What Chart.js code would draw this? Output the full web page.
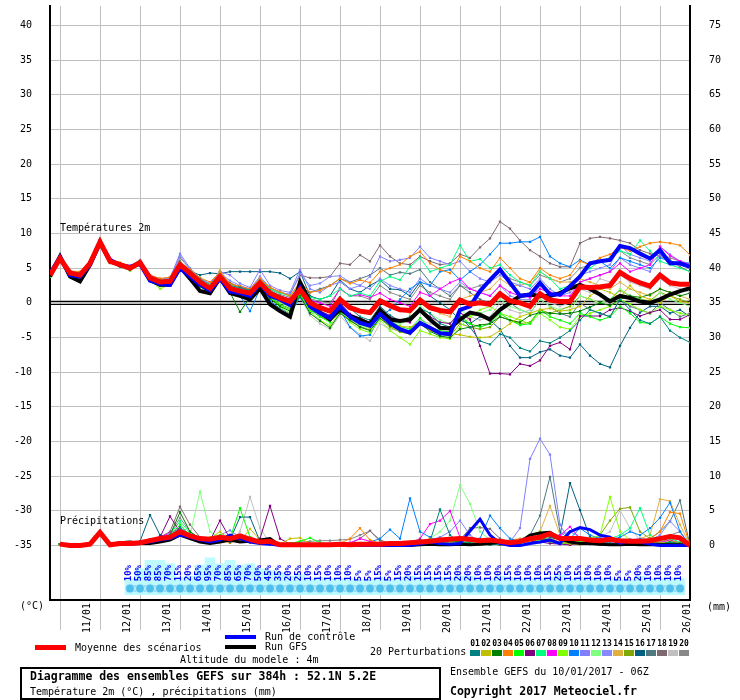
<!DOCTYPE html>
<html><head><meta charset="utf-8">
<script src="https://cdn.jsdelivr.net/npm/chart.js@4.4.0/dist/chart.umd.min.js"></script>
<style>html,body{margin:0;padding:0;background:#fff}canvas{display:block}</style>
</head><body>
<canvas id="c" width="740" height="700"></canvas>
<script>
// ---- time axis (hours after 10/01/2017 06Z) ----
const hours = [0,6,12,18,24,30,36,42,48,54,60,66,72,78,84,90,96,102,108,114,120,126,132,138,144,150,156,162,168,174,180,186,192,198,204,210,216,222,228,234,240,246,252,258,264,270,276,282,288,294,300,306,312,318,324,330,336,342,348,354,360,366,372,378,384];
const dayHours = [18,42,66,90,114,138,162,186,210,234,258,282,306,330,354,378];
const dayLabels = ['11/01','12/01','13/01','14/01','15/01','16/01','17/01','18/01','19/01','20/01','21/01','22/01','23/01','24/01','25/01','26/01'];
const leftTicks = [-35,-30,-25,-20,-15,-10,-5,0,5,10,15,20,25,30,35,40];
const rightTicks = [0,5,10,15,20,25,30,35,40,45,50,55,60,65,70,75];

// ---- temperature 2m (°C) ----
const tempMean = [4.0,6.4,4.3,4.0,5.7,8.8,6.0,5.5,5.0,5.8,3.6,3.0,3.1,5.5,4.3,3.0,2.1,3.8,2.1,1.7,1.4,2.9,1.4,0.7,0.2,1.9,0.0,-0.7,-1.2,0.5,-0.7,-1.2,-1.4,0.3,-0.4,-1.0,-1.1,0.4,-0.7,-1.1,-1.3,0.4,-0.2,0.0,-0.2,1.3,0.3,0.0,-0.5,1.3,0.4,0.2,0.2,2.3,2.2,2.3,2.5,4.4,3.5,2.9,2.4,4.0,2.9,2.7,2.7];
const tempControl = [4.2,6.6,4.0,3.8,5.5,8.6,6.2,5.4,5.2,5.6,3.2,2.7,2.6,5.0,3.8,2.6,1.8,3.5,1.6,1.4,1.0,2.8,1.0,0.5,-0.3,2.2,-0.5,-1.5,-2.2,-0.5,-2.0,-2.9,-3.3,-1.6,-2.9,-3.8,-4.3,-2.9,-3.6,-4.4,-4.5,-1.0,-0.5,1.7,3.3,4.8,2.9,1.0,1.2,2.9,1.2,1.2,2.4,3.8,5.7,6.0,6.2,8.2,7.9,7.1,6.4,7.6,5.7,5.7,5.2];
const tempGFS = [3.8,6.7,3.8,3.1,5.5,8.8,6.0,5.5,5.0,5.8,3.3,2.6,2.6,5.2,3.5,1.7,1.4,3.6,1.4,1.0,0.5,2.1,-0.2,-1.2,-2.0,3.0,0.2,-1.4,-2.4,-0.9,-1.9,-2.4,-3.1,-1.0,-2.4,-2.6,-2.4,-1.0,-2.4,-3.6,-3.7,-2.4,-1.4,-1.7,-2.4,-1.0,0.0,1.0,1.2,1.0,1.0,1.4,2.1,2.6,2.0,1.2,0.2,1.0,0.7,0.2,0.0,0.5,1.2,1.7,2.1];
const t01 = [4.2,6.6,4.5,4.1,5.9,9.0,6.1,5.6,5.1,5.9,3.8,3.2,3.0,5.8,4.6,3.4,2.4,4.0,2.5,2.2,1.8,3.2,1.8,1.0,0.5,2.4,0.5,-0.5,-1.0,0.8,-0.8,-2.0,-2.5,-0.5,-1.8,-2.6,-2.0,-0.8,-1.5,-3.0,-3.5,-2.0,-3.5,-5.5,-6.0,-4.5,-5.0,-6.5,-7.0,-5.5,-5.8,-5.0,-4.0,-2.5,-1.0,-1.5,-2.0,0.5,-1.0,-2.5,-3.0,-2.0,-4.0,-5.0,-5.7];
const t02 = [4.1,6.2,4.4,4.2,5.6,8.6,5.9,5.4,4.9,5.7,3.5,2.8,3.3,5.4,4.1,2.8,2.0,3.6,2.3,1.5,1.2,2.6,1.0,0.2,-0.4,1.5,-0.8,-1.6,-2.2,-0.4,-2.0,-2.8,-3.6,-2.0,-3.0,-3.4,-3.5,-2.8,-4.0,-4.3,-4.5,-4.6,-4.9,-5.0,-4.9,-4.0,-3.0,-2.0,-1.5,-1.0,-0.8,-1.2,-1.0,-0.5,1.0,2.0,1.5,0.8,2.5,1.0,0.5,0.0,1.0,0.2,0.0];
const t03 = [3.9,6.3,4.1,3.8,5.4,8.5,5.8,5.3,4.8,5.6,3.2,2.6,2.8,5.2,4.0,2.6,1.7,3.2,1.5,-1.3,0.8,2.2,0.6,-0.5,-1.2,1.0,-1.5,-2.6,-3.6,-1.5,-2.5,-3.5,-4.0,-2.2,-3.3,-4.0,-4.2,-3.0,-4.1,-4.8,-5.0,-3.8,-3.5,-3.2,-3.0,-2.0,-2.5,-2.8,-1.8,-1.4,-1.5,-1.6,-1.5,-1.2,-0.6,0.0,-0.4,0.5,1.0,0.8,1.2,2.0,1.5,1.0,1.4];
const t04 = [4.3,6.5,4.6,4.5,6.0,9.0,6.3,5.8,5.3,6.1,4.0,3.5,3.7,5.9,4.8,3.6,3.0,4.4,2.7,2.4,2.0,3.5,2.2,1.6,1.0,3.0,1.5,1.8,2.5,3.5,2.8,3.3,2.9,4.5,5.0,5.5,6.7,7.4,5.7,4.8,4.3,6.7,6.0,5.0,4.5,6.5,5.0,3.5,3.0,5.0,4.0,3.5,4.0,6.0,5.5,6.5,7.0,8.0,7.5,8.1,8.6,8.8,8.6,8.3,6.9];
const t05 = [3.8,6.2,4.0,3.7,5.5,8.7,5.8,5.2,4.7,5.5,3.2,2.5,2.6,5.1,3.8,2.4,1.5,3.3,1.6,1.2,0.9,2.3,0.8,-0.3,-1.0,1.2,-1.0,-2.0,-2.8,-0.6,-2.2,-3.0,-3.5,-1.0,-2.6,-3.4,-3.8,-2.2,-3.5,-4.0,-4.2,-2.0,-3.0,-3.5,-3.0,-1.5,-2.5,-3.2,-3.0,-1.0,-2.0,-2.5,-3.0,-1.5,-2.0,-2.5,-2.0,-0.5,-1.5,-2.8,-3.0,-2.0,-3.0,-3.5,-3.6];
const t06 = [4.0,6.4,4.2,3.9,5.6,8.7,6.0,5.4,4.9,5.7,3.4,2.8,3.0,5.3,4.1,2.9,2.0,3.7,2.0,1.6,1.2,2.7,1.2,0.3,-0.2,1.6,-0.4,-1.2,-1.8,0.0,-1.6,-2.2,-2.8,-0.8,-2.0,-2.6,-2.8,-1.0,-2.0,-2.8,-3.0,-1.4,-2.4,-6.2,-10.2,-10.2,-10.3,-8.8,-9.1,-8.3,-6.2,-5.7,-6.7,-1.9,-1.9,-1.9,-1.0,-0.7,-1.2,-1.9,-1.4,-1.0,-2.4,-2.4,-1.7];
const t07 = [4.1,6.5,4.4,4.3,5.8,8.9,6.1,5.6,5.2,6.0,3.8,3.3,3.4,5.7,4.5,3.3,2.6,4.2,2.6,2.0,1.8,3.3,2.0,1.4,1.0,2.8,0.8,0.5,1.0,2.0,1.0,1.4,1.0,3.1,3.8,3.3,5.2,6.5,4.5,5.0,5.5,8.3,6.0,6.3,5.0,5.5,4.0,3.0,2.5,4.5,3.5,2.0,2.5,4.0,5.0,6.0,6.5,7.5,7.0,9.0,7.5,6.0,5.5,5.0,4.5];
const t08 = [4.0,6.3,4.3,4.0,5.7,8.8,6.1,5.5,5.1,5.9,3.7,3.1,3.2,5.6,4.4,3.2,2.3,4.1,2.3,1.9,1.6,3.1,1.6,1.0,0.6,2.5,0.4,0.0,-0.5,2.1,1.0,1.2,0.8,1.4,0.5,0.0,-0.5,1.5,1.0,2.0,2.9,3.5,2.0,1.5,1.0,2.5,1.5,1.0,0.8,2.0,1.5,1.0,1.0,3.0,3.5,4.0,4.5,5.7,4.5,5.0,5.5,8.1,6.8,6.0,5.5];
const t09 = [3.9,6.2,4.1,3.9,5.6,8.7,5.9,5.3,4.8,5.6,3.3,2.0,2.7,5.2,3.9,2.3,1.6,3.4,1.4,1.3,0.7,2.4,0.7,-0.6,-1.5,1.2,-1.2,-2.5,-3.3,-1.2,-2.8,-3.8,-4.3,-2.5,-4.0,-5.0,-6.0,-4.0,-4.5,-5.0,-5.2,-3.5,-2.0,-1.0,-0.5,-1.5,-2.0,-2.5,-3.0,-1.5,-2.5,-3.5,-3.8,-2.0,-1.5,-1.0,-0.5,0.5,-0.2,-1.0,-1.5,-0.5,-1.0,-1.5,-1.8];
const t10 = [4.0,6.3,4.1,3.9,5.5,8.6,5.8,5.3,4.9,5.6,3.3,2.8,2.9,5.3,4.0,2.7,1.8,3.5,1.8,1.0,-1.2,2.0,0.3,-0.8,-1.6,0.8,-1.3,-1.3,-2.5,-1.0,-3.5,-4.8,-4.6,-2.0,-1.0,0.5,2.0,3.0,2.5,4.5,4.8,3.3,4.5,5.5,7.0,8.6,8.6,8.8,8.8,9.5,6.7,5.7,5.2,6.2,5.5,6.0,5.0,6.5,6.0,5.5,5.0,6.5,6.0,5.8,5.7];
const t11 = [4.2,6.6,4.5,4.3,6.0,9.2,6.2,5.7,5.3,6.2,4.0,3.5,3.6,7.1,5.0,3.5,2.8,4.5,4.0,2.8,2.2,4.8,2.5,1.8,1.5,4.8,2.0,1.5,2.5,3.0,2.0,2.5,3.8,6.7,6.0,6.2,6.5,8.1,6.5,6.0,5.5,6.0,4.5,3.5,3.0,4.0,3.0,2.5,2.0,3.5,2.0,1.0,1.5,3.0,3.5,4.0,4.5,6.5,5.5,5.0,4.5,7.0,6.0,5.5,5.0];
const t12 = [3.9,6.2,4.2,4.0,5.6,8.6,5.9,5.4,4.9,5.7,3.4,2.9,3.0,5.3,4.2,2.9,1.9,3.6,1.9,1.5,1.1,2.6,1.0,0.0,-0.6,1.4,-0.6,-1.8,-2.5,-0.8,-2.4,-3.2,-3.7,-1.8,-2.8,-3.0,-2.5,-0.5,-1.5,-2.5,-3.0,-1.0,-2.0,-1.5,-1.0,0.5,-0.5,-1.0,-1.5,0.5,-0.5,-1.0,-1.2,1.0,0.5,0.0,0.5,2.0,1.0,0.5,0.0,1.5,0.5,0.0,-0.5];
const t13 = [4.1,6.4,4.4,4.2,5.8,8.9,6.1,5.6,5.1,6.0,3.9,3.4,3.5,6.8,4.8,3.4,2.5,4.3,3.2,2.5,2.0,3.8,2.2,1.5,1.2,4.2,2.5,2.8,3.8,3.9,3.0,2.5,2.0,3.5,2.5,2.0,1.5,3.5,2.5,2.0,1.5,3.0,2.0,1.5,1.0,2.5,1.0,0.5,0.5,2.5,1.5,1.5,2.0,4.0,4.5,5.0,5.5,8.3,7.0,6.5,6.0,8.1,7.0,6.0,5.7];
const t14 = [4.2,6.5,4.5,4.2,5.9,9.0,6.2,5.7,5.2,6.0,3.8,3.3,3.4,5.8,4.5,3.3,2.4,4.8,2.6,2.1,1.7,3.3,1.7,1.0,0.5,2.4,0.2,-0.6,-1.0,0.8,-0.6,-1.2,-1.5,0.5,-0.5,-1.0,-1.5,0.5,-0.5,-1.5,-2.0,0.5,1.0,1.5,2.0,3.5,2.5,2.5,3.0,4.5,3.5,3.0,3.0,3.5,3.0,2.5,2.0,3.0,2.0,1.5,1.0,2.0,1.5,1.0,0.5];
const t15 = [3.9,6.3,4.2,3.9,5.5,8.5,5.8,5.4,4.8,5.6,3.3,2.4,2.7,5.2,4.0,2.6,1.8,3.3,1.8,1.4,1.0,2.5,0.9,-0.2,-0.8,1.3,-0.9,-2.0,-2.6,-1.0,-2.6,-3.4,-3.9,-2.2,-3.5,-4.2,-4.5,-3.0,-4.0,-4.5,-4.8,-3.0,-3.5,-3.8,-3.5,-2.0,-2.5,-3.0,-2.8,-1.0,-1.5,-1.0,-0.5,1.0,0.5,0.0,0.5,1.8,1.0,0.5,0.3,1.5,1.0,0.5,0.0];
const t16 = [4.1,6.4,4.3,4.1,5.8,8.9,6.1,5.6,5.1,5.9,3.8,3.2,3.3,5.8,4.6,4.0,4.3,4.2,4.5,4.5,4.5,4.5,4.5,4.3,3.5,4.5,1.0,0.5,1.0,3.3,2.0,1.5,2.5,3.3,2.0,1.9,1.0,3.0,1.0,0.0,-1.0,-2.5,-3.0,-2.0,-2.5,-3.8,-6.2,-7.9,-7.9,-7.1,-6.7,-7.6,-7.9,-6.0,-7.6,-8.8,-9.3,-6.2,-3.6,-1.4,-0.5,-0.5,-1.5,-1.0,-2.0];
const t17 = [4.0,6.3,4.3,4.1,5.7,8.8,6.0,5.5,5.0,5.8,3.6,3.0,3.2,5.5,4.3,3.1,2.2,3.9,2.2,1.8,1.5,3.0,1.5,0.9,0.4,2.3,1.5,2.0,2.5,3.5,3.0,3.5,4.0,5.0,4.0,4.4,4.2,4.8,3.0,2.0,1.0,2.5,1.5,0.5,0.0,1.5,0.0,-1.0,-1.5,0.5,-0.5,-1.5,-2.0,0.0,-1.0,-1.5,-2.0,0.5,-0.5,-1.0,-1.5,0.0,-1.0,-2.0,-1.5];
const t18 = [4.1,6.5,4.5,4.3,5.9,9.0,6.2,5.7,5.2,6.1,3.9,3.4,3.6,6.0,4.7,3.5,2.7,4.3,2.8,2.3,2.0,3.5,2.2,1.5,1.2,4.0,3.6,3.6,3.8,5.7,5.5,6.9,6.0,8.3,6.7,5.7,5.5,6.7,6.0,5.5,5.7,7.0,6.5,8.0,9.3,11.7,10.7,9.0,7.6,6.7,5.7,5.2,5.2,8.6,9.3,9.5,9.3,9.0,8.6,7.6,7.1,6.7,6.2,5.2,4.5];
const t19 = [3.8,6.1,4.0,3.7,5.4,8.5,5.7,5.2,4.7,5.5,3.1,2.5,2.6,5.0,3.7,2.3,1.4,3.2,1.4,1.0,0.6,2.0,0.4,-1.0,-1.8,0.9,-1.8,-3.0,-3.8,-1.8,-3.5,-4.5,-5.5,-3.0,-3.8,-4.0,-4.5,-2.5,-3.0,-3.5,-3.8,-1.5,-2.0,-2.5,-2.0,0.0,-1.0,-1.5,-1.0,1.0,0.0,-0.5,0.0,2.0,1.5,3.5,3.0,4.0,3.0,2.5,2.0,3.5,2.5,2.0,1.5];
const t20 = [4.1,6.5,4.4,4.2,5.8,8.9,6.1,5.7,5.2,6.0,3.9,3.4,3.6,6.5,4.9,3.6,2.6,4.4,2.9,2.3,1.9,3.4,2.0,1.2,0.8,2.6,0.6,0.2,0.0,2.0,1.0,1.0,0.5,2.5,1.5,1.0,0.5,2.5,1.5,1.0,0.5,2.5,2.0,2.5,3.0,4.5,3.5,3.0,2.5,4.0,3.5,3.0,3.5,5.0,5.5,6.0,6.5,7.5,6.5,6.0,5.5,7.0,6.5,6.0,5.5];
const tempMembers = [t01,t02,t03,t04,t05,t06,t07,t08,t09,t10,t11,t12,t13,t14,t15,t16,t17,t18,t19,t20];

// ---- precipitation (mm / 6h) ----
const precMean = [null,0.2,0.0,0.0,0.2,1.9,0.1,0.3,0.3,0.4,0.7,1.0,1.2,2.0,1.4,1.0,0.9,1.2,1.0,1.4,0.9,0.5,0.6,0.1,0.1,0.1,0.1,0.1,0.1,0.2,0.1,0.2,0.2,0.2,0.3,0.3,0.4,0.5,0.6,0.8,0.9,1.0,0.9,0.7,0.8,0.6,0.4,0.6,1.0,1.2,1.7,1.0,1.0,1.0,0.8,0.7,0.9,0.7,0.6,0.6,0.7,1.0,1.3,1.1,0.0];
const precControl = [null,0.2,0,0,0.2,1.8,0.1,0.3,0.2,0.3,0.5,0.8,1.0,1.5,1.2,0.8,0.5,0.8,1.5,1.0,0.5,0.3,0.2,0,0,0,0,0,0,0,0,0,0,0,0,0,0,0.2,0.5,0.3,0.2,0.3,2.1,3.8,1.5,0.3,0,0,0.3,0.5,0.8,0.3,2.0,2.6,2.3,1.5,1.2,0.3,0.8,0.5,0.2,0,0,0,0];
const precGFS = [null,0.2,0,0,0.3,2.0,0.1,0.4,0.5,0.3,0.3,0.5,0.8,1.5,1.0,0.5,0.3,0.5,0.8,0.5,0.6,0.8,1.0,0,0,0,0,0,0,0,0,0,0,0,0,0,0,0.1,0.2,0.1,0.1,0.2,0.1,0.2,0.3,0.5,0.3,0.5,1.5,1.8,1.9,1.0,0.5,0.3,0.3,0.2,0.1,0.1,0.2,0.1,0.1,0.1,0.1,0.1,0];
const p01 = [null,0.2,0,0,0.2,1.8,0.1,0.3,0.4,0.3,0.6,0.8,1.2,2.5,1.5,0.8,0.6,1.0,0.5,1.2,0.6,0.4,0.3,0.1,0,0,0,0,0,0.1,0,0,0.2,0.1,0.2,0.3,0.5,0.8,0.6,5.2,1.5,0.5,0.3,0.2,0.1,0.2,0.4,0.8,1.0,1.5,1.2,0.8,0.5,0.3,0.8,0.5,0.3,0.2,0.5,0.8,0.3,0.2,0.5,0.3,0];
const p02 = [null,0.1,0,0,0.3,1.6,0.1,0.2,0.3,0.2,0.5,0.9,1.0,1.8,1.2,0.7,1.0,2.0,0.8,0.6,2.4,0.8,0.3,0.2,1.0,1.1,0.3,0.1,0,0,0,0,0,0,0,0.1,0.2,0.3,0.2,0.5,0.3,0.2,0.1,0.2,0.3,0.2,0.5,0.6,1.5,2.0,1.0,0.5,0.3,0.2,0.4,0.3,0.2,0.1,0.3,0.5,0.4,0.3,0.6,0.4,0];
const p03 = [null,0.2,0,0,0.2,1.7,0.2,0.3,0.5,0.4,0.8,1.0,1.5,4.8,2.0,1.0,0.8,1.2,0.6,1.5,0.8,0.5,0.4,0.1,0,0,0,0,0.1,0,0,0,0,0,0.1,0.2,0.3,0.2,0.4,0.6,0.8,0.5,0.3,0.2,0.3,0.1,0.2,0.5,0.8,1.0,0.8,0.5,0.8,1.0,0.5,0.3,0.2,0.4,0.6,0.8,0.5,0.3,0.2,0.1,0];
const p04 = [null,0.1,0,0,0.2,1.5,0.1,0.2,0.3,0.3,0.4,0.6,0.9,1.4,1.0,0.6,0.5,0.8,0.4,0.8,0.4,0.3,0.2,0.1,0,0,0,0.1,0.2,0.3,1.0,2.5,0.8,0.3,0.2,0.1,0.2,0.5,1.0,0.6,0.3,0.2,0.1,0.1,0.2,0.3,0.2,0.4,0.6,1.0,0.8,0.5,0.3,0.2,0.3,0.5,0.6,0.4,0.3,0.5,1.0,2.0,4.8,4.6,0];
const p05 = [null,0.2,0,0,0.3,1.9,0.2,0.4,0.4,0.3,0.6,0.9,1.4,3.0,1.5,0.9,0.7,1.5,1.0,5.4,1.2,0.5,0.3,0.2,0.3,0.6,1.1,0.4,0.2,0.1,0,0,0,0,0.1,0.1,0.2,0.3,0.5,0.4,0.6,0.5,0.4,0.2,0.1,0.2,0.3,0.5,0.8,1.2,0.6,0.4,0.3,0.5,0.4,0.3,0.2,0.3,0.6,0.4,0.2,0.3,0.4,0.2,0];
const p06 = [null,0.2,0,0,0.2,1.7,0.1,0.3,0.3,0.4,0.7,1.2,4.2,2.0,1.2,0.8,0.7,3.6,1.0,0.8,0.6,1.0,5.7,1.0,0.2,0.1,0,0,0,0,0,0,0,0,0.1,0.2,0.3,0.8,0.5,0.3,0.2,0.3,0.2,0.1,0.2,0.1,0.2,0.4,0.6,0.5,0.3,0.2,0.1,0.3,0.2,0.1,0.2,0.3,0.2,0.1,0.2,0.3,0.2,0.1,0];
const p07 = [null,0.2,0,0,0.2,1.8,0.2,0.4,0.5,0.4,0.8,1.0,1.6,3.5,1.8,1.0,0.8,1.3,0.8,1.0,0.5,0.3,0.2,0.1,0,0,0,0,0,0,0,0,0.1,0.1,0.2,0.2,0.3,0.5,0.4,0.3,0.2,0.4,0.3,0.5,0.6,0.3,0.2,0.5,0.8,2.0,0.6,0.4,0.3,0.4,0.6,0.8,1.0,1.5,2.5,5.4,1.5,0.8,1.0,0.5,0];
const p08 = [null,0.1,0,0,0.2,1.6,0.1,0.3,0.4,0.5,0.9,1.2,1.8,2.5,1.6,1.0,0.8,1.2,0.6,0.9,0.5,0.3,0.2,0.1,0,0,0,0,0,0.2,0.4,1.0,0.6,0.3,0.2,0.1,0.3,1.0,3.1,3.6,5.0,1.2,0.5,0.3,0.2,0.3,0.2,0.4,0.6,1.0,0.5,1.5,2.7,1.0,0.5,0.3,0.2,0.5,0.3,0.6,0.5,0.4,0.8,0.3,0];
const p09 = [null,0.2,0,0,0.3,1.8,0.2,0.3,0.4,0.3,0.6,0.9,1.3,2.2,1.4,0.8,1.2,1.5,0.7,1.0,0.6,0.4,0.3,0.1,0,0,0,0,0,0,0,0,0,0.1,0.1,0.2,0.3,0.4,0.3,0.2,0.3,0.5,0.8,0.5,0.3,0.2,0.3,0.4,0.5,0.8,0.6,0.4,0.3,0.5,1.0,1.5,7.0,2.0,0.8,0.5,0.4,0.3,0.5,0.3,0];
const p10 = [null,0.2,0,0,0.2,1.9,0.1,0.3,0.3,0.3,0.5,0.8,1.1,1.8,1.2,0.7,0.6,1.1,0.5,1.3,0.8,0.4,0.3,0.1,0,0,0,0,0,0,0,0.2,0.5,1.0,2.3,1.0,6.8,2.0,1.2,0.5,0.3,0.4,0.6,1.0,4.3,2.5,1.0,0.5,0.3,0.6,0.8,1.2,1.0,2.5,1.5,1.0,0.8,1.2,2.0,1.5,2.5,4.0,6.2,2.0,0];
const p11 = [null,0.2,0,0,0.2,1.7,0.2,0.3,0.4,0.5,0.8,1.1,1.6,2.4,1.6,1.0,0.9,1.5,2.2,1.2,0.6,0.4,0.3,0.1,0,0,0,0,0,0,0,0,0,0.1,0.2,0.3,0.2,0.5,0.8,1.2,2.0,3.6,1.5,0.5,0.3,0.2,0.5,2.5,12.5,15.4,13.1,3.0,0.5,0.3,0.5,1.2,0.8,0.5,0.4,0.6,0.5,0.3,0.6,0.4,0];
const p12 = [null,0.2,0,0,0.3,1.8,0.2,0.3,0.5,0.4,0.8,1.0,1.4,2.5,1.5,7.8,2.0,1.0,0.6,0.8,0.5,0.3,0.2,0.1,0,0,0,0,0,0,0,0,0,0.1,0.1,0.2,0.3,0.4,1.0,2.0,3.6,8.7,6.0,2.0,0.8,0.5,0.3,0.2,0.4,0.6,0.5,0.3,0.2,0.4,0.5,0.3,0.2,0.3,0.4,0.3,0.2,0.4,0.5,0.3,0];
const p13 = [null,0.1,0,0,0.2,1.6,0.1,0.3,0.3,0.4,0.7,0.9,1.3,2.0,1.4,0.8,0.7,1.1,1.5,0.8,0.5,0.3,0.2,0.1,0,0,0,0,0,0,0,0,0,0,0.1,0.2,0.3,0.5,0.4,0.3,0.5,0.6,0.4,0.3,0.2,0.3,0.4,0.6,0.8,1.0,0.6,1.5,2.0,1.2,0.5,0.3,0.4,0.5,0.8,1.0,0.8,1.5,3.5,2.0,0];
const p14 = [null,0.2,0,0,0.2,1.7,0.1,0.3,0.4,0.3,0.6,0.9,1.2,2.1,1.3,0.8,0.6,1.0,0.5,0.9,0.5,0.3,0.2,0.1,0,0,0,0,0,0,0,0,0,0.1,0.1,0.2,0.3,0.4,0.3,0.2,0.3,0.4,0.3,0.2,0.4,0.6,0.8,1.0,1.2,2.0,5.7,1.5,0.8,0.5,0.3,0.2,0.3,0.4,0.5,1.0,1.5,6.7,6.4,3.0,0];
const p15 = [null,0.2,0,0,0.2,1.8,0.2,0.4,0.4,0.3,0.7,1.0,1.5,2.3,1.4,0.9,0.7,1.2,0.7,1.0,0.6,0.4,0.3,0.1,0,0,0,0,0,0,0,0,0,0,0.1,0.2,0.3,0.5,0.4,0.3,0.4,0.5,0.3,0.2,0.3,0.2,0.3,0.5,0.7,1.0,0.6,0.4,0.3,0.5,0.8,1.5,3.6,5.3,5.5,2.0,1.0,0.6,0.8,0.4,0];
const p16 = [null,0.2,0,0,0.2,1.7,0.2,0.3,0.5,0.6,4.4,1.5,1.2,2.6,1.5,0.9,0.7,1.2,0.8,4.1,4.1,0.6,0.3,0.1,0,0,0,0,0,0,0,0,0,0,0.1,0.2,0.3,0.4,0.3,0.5,0.4,0.3,0.2,0.3,0.2,0.4,0.3,0.4,0.6,0.8,1.0,1.5,9.0,5.1,1.2,0.6,0.4,0.3,0.5,0.4,0.3,0.5,0.4,0.3,0];
const p17 = [null,0.2,0,0,0.2,1.8,0.1,0.3,0.4,0.4,0.7,1.0,1.4,2.2,1.4,0.9,0.7,1.1,0.6,1.0,0.6,0.3,0.2,0.1,0,0,0,0,0,0,0,0,0,0.1,0.1,0.2,0.2,0.3,0.4,0.3,0.2,0.3,0.4,0.5,0.3,0.2,0.4,0.6,1.5,4.3,9.9,2.0,0.8,0.5,0.3,0.2,0.3,0.5,0.4,0.6,1.0,2.0,3.5,6.5,0];
const p18 = [null,0.2,0,0,0.3,1.9,0.2,0.4,0.5,0.5,0.9,1.2,2.0,5.6,3.0,1.2,0.8,1.4,0.7,1.1,0.6,0.4,0.3,0.1,0,0,0,0,0,0,0.2,1.0,2.1,0.8,0.3,0.2,0.3,0.5,0.4,0.3,0.5,0.8,2.5,2.6,2.4,1.0,0.5,0.3,0.6,0.8,0.6,0.4,0.3,0.2,0.4,0.3,0.5,0.4,0.3,0.5,0.4,0.3,0.6,0.4,0];
const p19 = [null,0.1,0,0,0.2,1.6,0.1,0.3,0.3,0.3,0.6,0.9,1.2,2.0,1.3,0.8,0.7,1.0,0.6,2.0,7.0,2.5,0.4,0.1,0,0,0,0,0,0,0,0,0,0.1,0.1,0.2,0.3,0.2,0.3,0.4,0.3,0.4,0.3,0.2,0.3,0.2,0.3,0.4,0.6,0.8,0.5,0.3,0.4,0.6,0.8,1.2,2.0,5.1,2.5,0.8,0.5,0.4,0.6,0.3,0];
const p20 = [null,0.2,0,0,0.2,1.8,0.2,0.4,0.4,0.4,0.8,1.1,1.6,4.0,2.0,1.0,0.8,1.2,0.7,1.0,0.6,0.4,0.3,0.2,0.3,0.5,0.6,0.7,0.7,0.8,0.9,1.5,2.1,0.6,0.3,0.2,0.3,0.4,0.3,0.4,0.6,0.5,0.4,0.3,0.2,0.3,0.4,0.5,0.8,1.2,0.8,0.5,0.4,0.3,0.5,0.4,0.3,0.5,0.6,0.8,1.0,1.2,1.5,2.0,0];
const precMembers = [p01,p02,p03,p04,p05,p06,p07,p08,p09,p10,p11,p12,p13,p14,p15,p16,p17,p18,p19,p20];

// ---- snow probability row (%) ----
const pctHours = [48,54,60,66,72,78,84,90,96,102,108,114,120,126,132,138,144,150,156,162,168,174,180,186,192,198,204,210,216,222,228,234,240,246,252,258,264,270,276,282,288,294,300,306,312,318,324,330,336,342,348,354,360,366,372,378];
const pctValues = [10,50,85,85,70,15,20,65,95,70,85,65,70,50,45,35,20,25,10,15,10,10,10,5,5,15,5,15,20,15,15,15,15,20,20,10,10,20,15,10,10,10,15,25,10,15,10,10,10,5,5,20,10,10,10,10];

const memberNames = ['01','02','03','04','05','06','07','08','09','10','11','12','13','14','15','16','17','18','19','20'];
const memberColors = ['#008080','#C0C000','#008000','#FF8000','#00FF00','#800080','#00FF80','#FF00FF','#80FF00','#0080FF','#8080FF','#80FF80','#8888FF','#E0B040','#80A800','#006080','#507880','#806870','#C0C0C0','#888888'];

// ---- build ----
const MONO = '"DejaVu Sans Mono","Liberation Mono",monospace';
const pts = arr => hours.map((h,i)=>({x:h, y:arr[i]}));
const datasets = [];
function thick(label, arr, color, w, axis, order){
  datasets.push({type:'line', label, data:pts(arr), borderColor:color, backgroundColor:color, borderWidth:w, pointRadius:0, yAxisID:axis, order});
}
thick('Moyenne des scénarios', tempMean, '#FF0000', 5, 'y', 0);
thick('Run de contrôle', tempControl, '#0000FF', 4, 'y', 1);
thick('Run GFS', tempGFS, '#000000', 4, 'y', 2);
thick('Moyenne précip', precMean, '#FF0000', 5, 'yR', 0);
thick('Contrôle précip', precControl, '#0000FF', 3, 'yR', 1);
thick('GFS précip', precGFS, '#000000', 3, 'yR', 2);
tempMembers.forEach((arr,k)=>{
  datasets.push({type:'line', label:'T'+memberNames[k], data:pts(arr), borderColor:memberColors[k], backgroundColor:memberColors[k], borderWidth:1, pointRadius:1.6, pointStyle:'rect', pointBorderWidth:0, yAxisID:'y', order:5});
});
precMembers.forEach((arr,k)=>{
  datasets.push({type:'line', label:'P'+memberNames[k], data:pts(arr), borderColor:memberColors[k], backgroundColor:memberColors[k], borderWidth:1, pointRadius:1.6, pointStyle:'rect', pointBorderWidth:0, yAxisID:'yR', order:5});
});
// snow probability bars and band
datasets.push({type:'bar', label:'bars', data:pctHours.map((h,i)=>({x:h, y:[-42.1, -40.1 + pctValues[i]*0.035]})), backgroundColor:'#BDFBFF', borderColor:'#BDFBFF', borderWidth:0, barThickness:10, grouped:false, borderSkipped:false, yAxisID:'y', order:60});
datasets.push({type:'line', label:'band', data:pctHours.map(h=>({x:h, y:-41.2})), borderColor:'#8FD8F5', borderWidth:7, pointRadius:4.5, pointStyle:'circle', pointBackgroundColor:'#4EC0EC', pointBorderColor:'#B5E9FF', pointBorderWidth:1.2, yAxisID:'y', order:50});

const deco = {
  id:'deco',
  beforeDatasetsDraw(chart){
    const {ctx, chartArea:a, scales:{y}} = chart;
    const p = y.getPixelForValue(0);
    ctx.save(); ctx.strokeStyle='#000'; ctx.lineWidth=1.4;
    ctx.beginPath();
    ctx.moveTo(a.left,p-1.5); ctx.lineTo(a.right,p-1.5);
    ctx.moveTo(a.left,p+1.5); ctx.lineTo(a.right,p+1.5);
    ctx.stroke(); ctx.restore();
  },
  afterDatasetsDraw(chart){
    const {ctx, scales:{x,y}} = chart;
    ctx.save();
    ctx.fillStyle='#0000FF'; ctx.font='bold 9px '+MONO; ctx.textAlign='left'; ctx.textBaseline='middle';
    pctHours.forEach((h,i)=>{
      ctx.save(); ctx.translate(x.getPixelForValue(h)-1, y.getPixelForValue(-40.15)); ctx.rotate(-Math.PI/2);
      ctx.fillText(pctValues[i]+'%',0,0); ctx.restore();
    });
    ctx.fillStyle='#000'; ctx.font='10px '+MONO; ctx.textAlign='left';
    ctx.fillText('Températures 2m', x.getPixelForValue(6), y.getPixelForValue(10.7));
    ctx.fillText('Précipitations', x.getPixelForValue(6), y.getPixelForValue(-31.57));
    ctx.restore();
  },
  afterDraw(chart){
    const ctx = chart.ctx;
    ctx.save();
    ctx.fillStyle='#000'; ctx.textBaseline='middle'; ctx.textAlign='left';
    ctx.font='10px '+MONO;
    ctx.fillText('(°C)', 20, 606);
    ctx.fillText('(mm)', 707, 607);
    // legend
    ctx.fillStyle='#FF0000'; ctx.fillRect(35,645,31,5);
    ctx.fillStyle='#0000FF'; ctx.fillRect(225,635,31,4);
    ctx.fillStyle='#000000'; ctx.fillRect(225,645,31,4);
    ctx.fillStyle='#000';
    ctx.fillText('Moyenne des scénarios', 75, 648);
    ctx.fillText('Run de contrôle', 265, 637);
    ctx.fillText('Run GFS', 265, 647);
    ctx.fillText('Altitude du modele : 4m', 180, 660);
    ctx.fillText('20 Perturbations', 370, 652);
    ctx.fillText('Ensemble GEFS du 10/01/2017 - 06Z', 450, 672);
    ctx.font='bold 8px '+MONO; ctx.textAlign='center';
    memberColors.forEach((c,k)=>{
      const sx = 470 + k*11;
      ctx.fillStyle=c; ctx.fillRect(sx,650,10,6);
      ctx.fillStyle='#000'; ctx.fillText(memberNames[k], sx+5, 644);
    });
    ctx.textAlign='left';
    // title box
    ctx.strokeStyle='#000'; ctx.lineWidth=2; ctx.strokeRect(21,668,419,31);
    ctx.font='bold 11.5px '+MONO; ctx.fillStyle='#000';
    ctx.fillText('Diagramme des ensembles GEFS sur 384h : 52.1N 5.2E', 30, 677);
    ctx.fillText('Copyright 2017 Meteociel.fr', 450, 692);
    ctx.font='10px '+MONO;
    ctx.fillText('Température 2m (°C) , précipitations (mm)', 30, 692);
    ctx.restore();
  }
};

function noPad(s){ s.paddingTop = 0; s.paddingBottom = 0; s.paddingLeft = 0; s.paddingRight = 0; }

new Chart(document.getElementById('c'), {
  type:'line',
  data:{datasets},
  options:{
    responsive:false, animation:false, devicePixelRatio:1,
    layout:{padding:0},
    elements:{line:{tension:0, fill:false}},
    plugins:{legend:{display:false}, tooltip:{enabled:false}},
    scales:{
      x:{type:'linear', min:0, max:384, offset:false,
        afterBuildTicks(s){ s.ticks = dayHours.map(v=>({value:v})); },
        afterFit(s){ s.height = 100; noPad(s); },
        grid:{color:'#C0C0C0', lineWidth:1, drawTicks:true, tickLength:30, tickColor:'#C0C0C0'},
        border:{color:'#000', width:2},
        ticks:{autoSkip:false, minRotation:90, maxRotation:90, padding:-27, labelOffset:7, color:'#000', font:{family:MONO, size:10},
          callback:(v,i)=>dayLabels[i]}
      },
      y:{position:'left', min:-300/7, max:300/7,
        afterBuildTicks(s){ s.ticks = leftTicks.map(v=>({value:v})); },
        afterFit(s){ s.width = 50; noPad(s); },
        grid:{color:'#C0C0C0', lineWidth:1, drawTicks:false},
        border:{color:'#000', width:2},
        ticks:{padding:18, color:'#000', font:{family:MONO, size:10}}
      },
      yR:{position:'right', min:-55/7, max:545/7,
        afterBuildTicks(s){ s.ticks = rightTicks.map(v=>({value:v})); },
        afterFit(s){ s.width = 50; noPad(s); },
        grid:{display:false, drawTicks:false},
        border:{color:'#000', width:2},
        ticks:{padding:19, color:'#000', font:{family:MONO, size:10}}
      }
    }
  },
  plugins:[deco]
});
</script>
</body></html>
